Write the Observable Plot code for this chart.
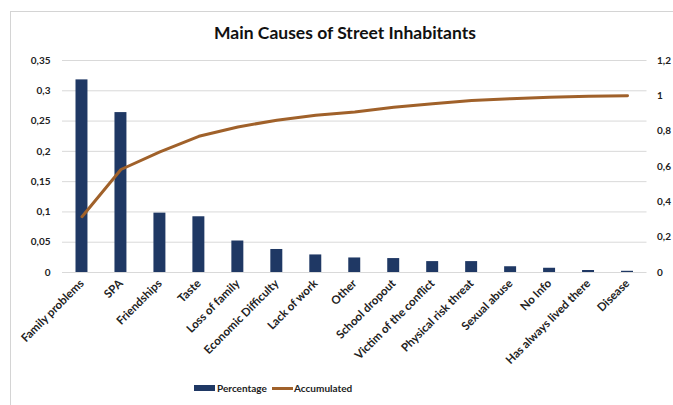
<!DOCTYPE html>
<html><head><meta charset="utf-8">
<script src="https://cdn.jsdelivr.net/npm/d3@7"></script>
<script src="https://cdn.jsdelivr.net/npm/@observablehq/plot@0.6"></script>
<style>
body{margin:0;background:#fff;font-family:Lato,sans-serif;}
#wrap{position:relative;width:673px;height:405px;overflow:hidden;background:#fff;}
#frame{position:absolute;left:10px;top:11px;width:700px;height:420px;border-top:1px solid #d4d4d4;border-left:1px solid #d4d4d4;}
#title{position:absolute;left:0;width:690px;top:22px;text-align:center;font-weight:bold;font-size:17.5px;color:#111;}
#chart{position:absolute;left:0;top:0;}
.lg{position:absolute;font-size:10px;font-weight:bold;color:#222;line-height:12px;top:382px;}
.sw{position:absolute;width:21px;}
</style>
</head><body>
<div id="wrap">
<div id="frame"></div>
<div id="chart"></div>
<div id="title">Main Causes of Street Inhabitants</div>
<span class="sw" style="left:194px;top:385px;height:6px;background:#1f3864"></span>
<span class="lg" style="left:217px">Percentage</span>
<span class="sw" style="left:272px;top:387px;height:3px;background:#a0612a"></span>
<span class="lg" style="left:294px">Accumulated</span>
</div>
<script>
const categories = ["Family problems","SPA","Friendships","Taste","Loss of family","Economic Difficulty","Lack of work","Other","School dropout","Victim of the conflict","Physical risk threat","Sexual abuse","No Info","Has always lived there","Disease"];
const percentage = [0.318,0.264,0.098,0.092,0.052,0.038,0.029,0.024,0.023,0.018,0.018,0.0095,0.007,0.0033,0.002];
const accumulated = [0.316,0.583,0.683,0.771,0.824,0.862,0.89,0.909,0.935,0.955,0.973,0.984,0.992,0.997,1.0];
const leftTicks = [0,0.05,0.1,0.15,0.2,0.25,0.3,0.35];
const rightTicks = [0,0.2,0.4,0.6,0.8,1,1.2];

const leftMax = 0.35, rightMax = 1.2;
const k = leftMax / rightMax;
const data = categories.map((c,i)=>({cat:c,pct:percentage[i],acc:accumulated[i]}));
const fmt = v => d3.format(".2~f")(v).replace(".", ",");

const chart = Plot.plot({
  width: 673, height: 370,
  marginTop: 60, marginBottom: 98, marginLeft: 62, marginRight: 26.5,
  style: {fontFamily: "Lato, sans-serif", color: "#222", background: "transparent"},
  x: {domain: categories, padding: 0, round: false, label: null},
  y: {domain: [0, leftMax], label: null},
  marks: [
    Plot.ruleY(leftTicks, {stroke: "#d9d9d9", strokeWidth: 1}),
    Plot.barY(data, {x: "cat", y: "pct", fill: "#1f3864", insetLeft: 13.5, insetRight: 13.5}),
    Plot.lineY(data, {x: "cat", y: d => d.acc * k, stroke: "#a0612a", strokeWidth: 3, strokeLinejoin: "round"}),
    Plot.axisY(leftTicks, {tickFormat: fmt, tickSize: 0, tickPadding: 12, fontWeight: "bold", fontSize: 10, label: null}),
    Plot.axisY(rightTicks.map(v => v * k), {anchor: "right", tickFormat: d => fmt(Math.round(d / k * 10) / 10), tickSize: 0, tickPadding: 10, fontWeight: "bold", fontSize: 10, label: null}),
    Plot.axisX({tickRotate: -45, tickSize: 0, tickPadding: 9, fontWeight: "bold", fontSize: 11.5, label: null})
  ]
});
document.getElementById("chart").appendChild(chart);
</script>
</body></html>
